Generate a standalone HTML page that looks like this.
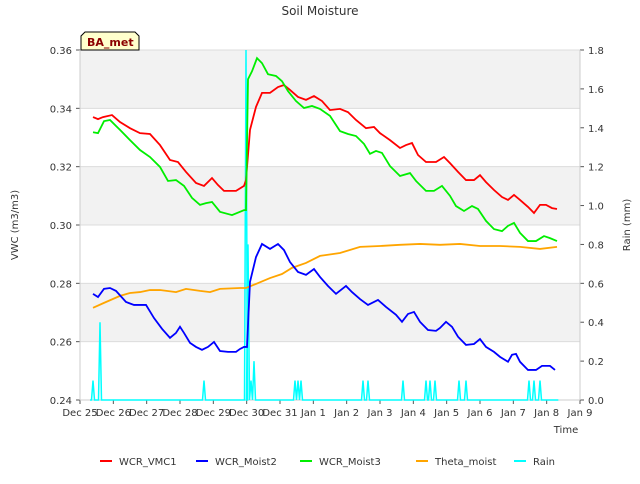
<!DOCTYPE html>
<html><head><meta charset="utf-8"><style>
body{margin:0;background:#fff;font-family:"DejaVu Sans","Liberation Sans",sans-serif}
svg text{font-family:"DejaVu Sans","Liberation Sans",sans-serif}
</style></head><body>
<svg id="c" width="640" height="480" xmlns="http://www.w3.org/2000/svg"></svg>
<script>
const xTicks=["Dec 25","Dec 26","Dec 27","Dec 28","Dec 29","Dec 30","Dec 31","Jan 1","Jan 2","Jan 3","Jan 4","Jan 5","Jan 6","Jan 7","Jan 8","Jan 9"];
const yTicks=[0.24,0.26,0.28,0.30,0.32,0.34,0.36];
const y2Ticks=[0,0.2,0.4,0.6,0.8,1.0,1.2,1.4,1.6,1.8];
const vmc1T=[.39,.54,.69,.96,1.2,1.5,1.8,2.1,2.4,2.7,2.94,3.18,3.48,3.72,3.96,4.14,4.32,4.68,4.92,4.98,5.1,5.28,5.46,5.7,5.94,6.12,6.3,6.54,6.78,7.02,7.26,7.5,7.8,8.04,8.28,8.58,8.82,9.0,9.3,9.6,9.78,9.96,10.14,10.38,10.68,10.92,11.1,11.34,11.58,11.82,12.0,12.18,12.42,12.66,12.84,13.02,13.2,13.44,13.62,13.8,13.98,14.16,14.31];
const vmc1V=[.337,.3363,.337,.3377,.3353,.3332,.3315,.3312,.3274,.3223,.3216,.3182,.3144,.3134,.3161,.3137,.3117,.3117,.3134,.3154,.3326,.3405,.3453,.3453,.3473,.348,.3463,.3439,.3429,.3442,.3425,.3394,.3398,.3387,.336,.3332,.3336,.3315,.3291,.3264,.3274,.3281,.324,.3216,.3216,.3233,.3212,.3182,.3154,.3154,.3171,.3147,.312,.3096,.3086,.3103,.3086,.3062,.3041,.3069,.3069,.3058,.3055];
const moist3T=[.39,.54,.72,.9,1.2,1.5,1.8,2.1,2.4,2.64,2.88,3.12,3.36,3.6,3.78,3.96,4.2,4.56,4.92,4.98,5.04,5.16,5.31,5.46,5.64,5.88,6.06,6.24,6.48,6.72,6.96,7.2,7.5,7.8,8.04,8.28,8.52,8.7,8.88,9.06,9.3,9.6,9.9,10.08,10.38,10.62,10.86,11.1,11.28,11.52,11.76,11.94,12.18,12.42,12.66,12.84,13.02,13.2,13.44,13.68,13.92,14.1,14.31];
const moist3V=[.3318,.3315,.3356,.336,.3326,.3291,.3257,.3233,.3199,.3151,.3154,.3134,.3093,.3069,.3075,.3079,.3045,.3034,.3051,.3051,.35,.3527,.3572,.3555,.3517,.3511,.3493,.3459,.3425,.3401,.3408,.3398,.3374,.3322,.3312,.3305,.3278,.3244,.3254,.3247,.3202,.3168,.3178,.3151,.3117,.3117,.3134,.31,.3065,.3048,.3065,.3055,.3014,.2986,.2979,.2997,.3007,.2973,.2945,.2945,.2962,.2955,.2945];
const moist2T=[.39,.54,.72,.9,1.08,1.38,1.62,1.98,2.22,2.46,2.7,2.88,3.0,3.12,3.3,3.48,3.66,3.84,4.02,4.2,4.44,4.68,4.8,4.92,5.01,5.1,5.28,5.46,5.7,5.94,6.12,6.3,6.54,6.78,7.02,7.2,7.44,7.68,7.98,8.16,8.4,8.64,8.94,9.18,9.48,9.66,9.84,10.02,10.2,10.44,10.68,10.8,10.98,11.16,11.34,11.58,11.82,12.0,12.18,12.42,12.6,12.84,12.96,13.08,13.2,13.44,13.68,13.86,14.1,14.25];
const moist2V=[.2764,.2753,.2781,.2784,.2774,.2736,.2726,.2726,.2681,.2644,.2613,.263,.2651,.263,.2596,.2582,.2572,.2582,.2599,.2568,.2565,.2565,.2575,.2582,.2582,.2805,.289,.2935,.2918,.2935,.2914,.2873,.2839,.2829,.2849,.2822,.2791,.2764,.2791,.277,.2746,.2726,.2743,.2719,.2692,.2668,.2695,.2702,.2668,.264,.2637,.2647,.2668,.2651,.2617,.2589,.2592,.2609,.2582,.2565,.2548,.2531,.2555,.2558,.2531,.2503,.2503,.2517,.2517,.2503];
const thetaT=[.39,.72,1.2,1.5,1.8,2.1,2.4,2.88,3.18,3.6,3.9,4.2,4.8,4.98,5.28,5.7,6.06,6.36,6.78,7.2,7.8,8.4,9.0,9.6,10.2,10.8,11.4,12.0,12.6,13.2,13.8,14.31];
const thetaV=[.2716,.2733,.2757,.2767,.277,.2777,.2777,.277,.2781,.2774,.277,.2781,.2784,.2784,.2798,.2818,.2832,.2853,.287,.2894,.2904,.2925,.2928,.2932,.2935,.2932,.2935,.2928,.2928,.2925,.2918,.2925];
const rainT=[.39,.6,3.72,4.98,5.04,5.13,5.22,6.45,6.54,6.63,8.49,8.64,9.69,10.38,10.5,10.65,11.37,11.58,13.47,13.62,13.8];
const rainV=[.1,.4,.1,1.8,.8,.1,.2,.1,.1,.1,.1,.1,.1,.1,.1,.1,.1,.1,.1,.1,.1];

const L=80,R=580,T=50,B=400,NS="http://www.w3.org/2000/svg",svg=document.getElementById('c');
const X=d=>L+d*(R-L)/15, Y=v=>B-(v-0.24)/0.12*(B-T), Y2=v=>B-v/1.8*(B-T);
function el(t,a,p){const e=document.createElementNS(NS,t);for(const k in a)e.setAttribute(k,a[k]);(p||svg).appendChild(e);return e;}
function tx(x,y,s,o){const e=el('text',Object.assign({x:x,y:y,'font-size':10,fill:'#333'},o||{}));e.textContent=s;return e;}

// bands
for(let i=0;i<3;i++){const b=el('rect',{x:L,y:Y(0.28+i*0.04),width:R-L,height:Y(0.26)-Y(0.28),fill:'#f2f2f2'});

}
yTicks.forEach(v=>{el('line',{x1:L,x2:R,y1:Y(v),y2:Y(v),stroke:'#dcdcdc'});
el('line',{x1:L-4,x2:L,y1:Y(v),y2:Y(v),stroke:'#555'});
const t=tx(L-8,Y(v)+4,v.toFixed(2),{'text-anchor':'end'});

});
y2Ticks.forEach(v=>{el('line',{x1:R,x2:R+4,y1:Y2(v),y2:Y2(v),stroke:'#555'});
const t=tx(R+8,Y2(v)+4,v.toFixed(1));

});
xTicks.forEach((s,i)=>{el('line',{x1:X(i),x2:X(i),y1:B,y2:B+4,stroke:'#555'});
const t=tx(X(i),B+16,s,{'text-anchor':'middle'});

});
el('line',{x1:L,x2:L,y1:T,y2:B,stroke:'#ccc'});el('line',{x1:R,x2:R,y1:T,y2:B,stroke:'#ccc'});
el('line',{x1:L,x2:R,y1:B,y2:B,stroke:'#ccc'});

// rain
let d='M'+X(0.3)+','+Y2(0);
rainT.forEach((t,i)=>{const x=X(t);d+=' L'+(x-1.5)+','+Y2(0)+' L'+x+','+Y2(rainV[i])+' L'+(x+1.5)+','+Y2(0);});
d+=' L'+X(14.35)+','+Y2(0);
const rp=el('path',{d:d,fill:'none',stroke:'#00ffff','stroke-width':1.5});



function line(ts,vs,c,n){const p=el('polyline',{points:ts.map((t,i)=>X(t)+','+Y(vs[i])).join(' '),fill:'none',stroke:c,'stroke-width':1.8});

}
line(thetaT,thetaV,'#ffa500','theta-moist-line');
line(vmc1T,vmc1V,'#ff0000','wcr-vmc1-line');
line(moist3T,moist3V,'#00ee00','wcr-moist3-line');
line(moist2T,moist2V,'#0000ff','wcr-moist2-line');

const ti=tx(320,15,'Soil Moisture',{'text-anchor':'middle','font-size':12,fill:'#333'});


const yt=tx(0,0,'VWC (m3/m3)',{'text-anchor':'middle',transform:'translate(18,225) rotate(-90)'});


const y2t=tx(0,0,'Rain (mm)',{'text-anchor':'middle',transform:'translate(630,225) rotate(-90)'});


const xt=tx(566,433,'Time',{'text-anchor':'middle'});



const badge=el('g',{});


el('path',{d:'M81,50 L81,36 L85,32 L135,32 L139,36 L139,50 Z',fill:'#ffffcc',stroke:'#000'},badge);
tx(87,46,'BA_met',{'font-size':11,'font-weight':'bold',fill:'#8b0000'},badge);

const leg=[['WCR_VMC1','#ff0000',100],['WCR_Moist2','#0000ff',196],['WCR_Moist3','#00ee00',300],['Theta_moist','#ffa500',416],['Rain','#00ffff',514]];
leg.forEach(l=>{const g=el('g',{});


el('line',{x1:l[2],x2:l[2]+12,y1:461,y2:461,stroke:l[1],'stroke-width':2},g);
tx(l[2]+19,465,l[0],{},g);});
</script>
</body></html>
